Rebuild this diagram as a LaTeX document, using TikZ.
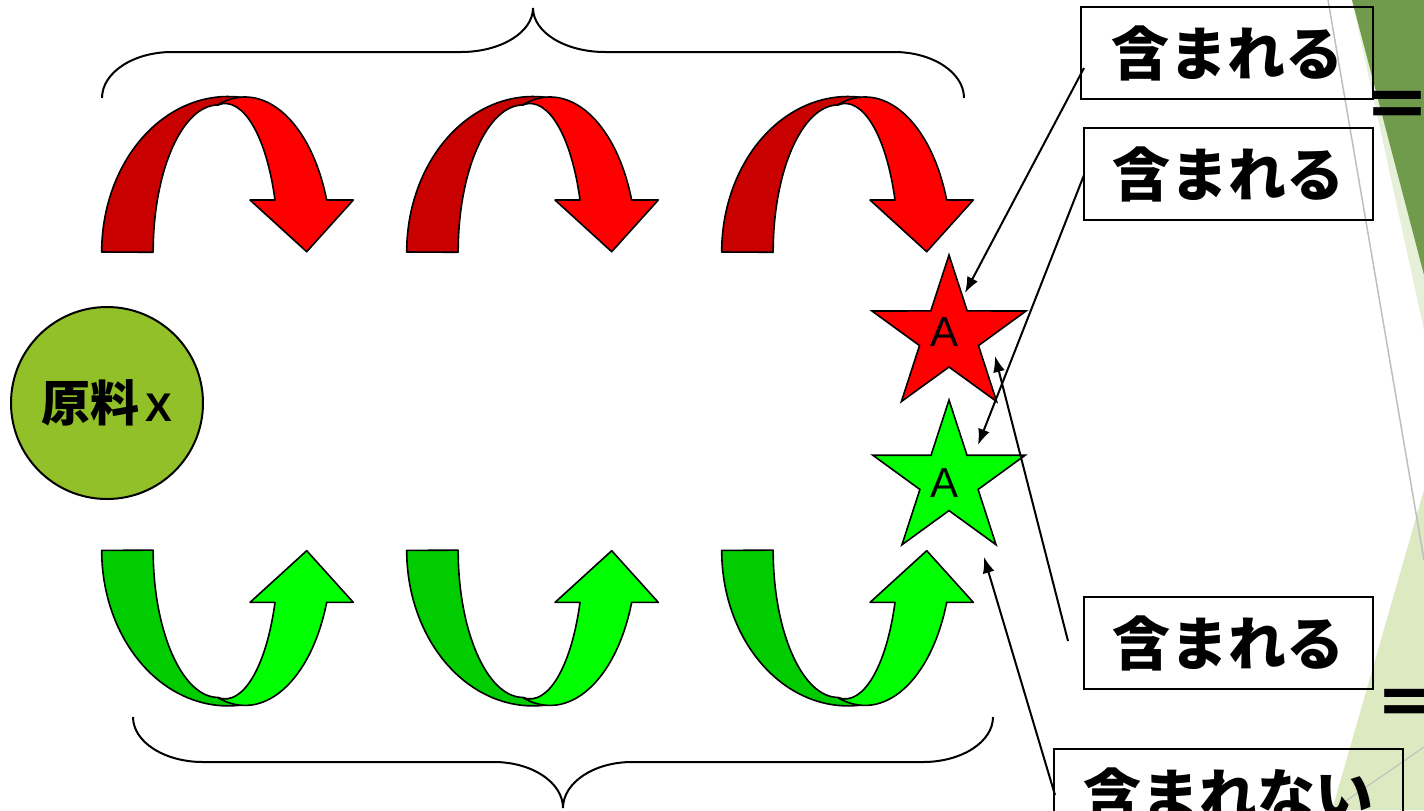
\documentclass[tikz,border=0pt]{standalone}
\usepackage{fontspec}
\setmainfont{Liberation Sans}
\newfontfamily\jp{Noto Sans CJK JP}
\usetikzlibrary{arrows.meta,calc}
\definecolor{arrDarkRed}{RGB}{200,0,0}
\definecolor{arrRed}{RGB}{255,0,0}
\definecolor{arrDarkGreen}{RGB}{0,204,0}
\definecolor{arrGreen}{RGB}{0,255,0}
\definecolor{rawOlive}{RGB}{146,192,40}
\definecolor{bgDark}{RGB}{112,155,77}
\definecolor{bgPale}{RGB}{230,239,216}
\definecolor{bgLight}{RGB}{220,233,193}
\definecolor{bgLine}{RGB}{190,190,190}
\newcommand\curvedarr[3]{%
 \begin{scope}[#1]
  \draw[band, fill=#2] (101.7,252)
     arc[start angle=180, end angle=276.4, x radius=126.3, y radius=155.5]
     arc[start angle=268.1, end angle=252, x radius=86.7, y radius=155]
     arc[start angle=270, end angle=180, x radius=65, y radius=147.3] -- cycle;
  \draw[band, fill=#3] (218.2,104.6)
     arc[start angle=252, end angle=340.4, x radius=86.7, y radius=155]
     -- (353.3,200) -- (306.7,251.7) -- (250,200) -- (275,200)
     arc[start angle=339.5, end angle=262.8, x radius=53.4, y radius=148.5] -- cycle;
 \end{scope}}
\begin{document}
\begin{tikzpicture}[x=0.5pt,y=-0.5pt,
  band/.style={draw=black, line width=0.8pt, line join=round},
  brace/.style={draw=black, line width=1pt},
  box/.style={draw=black, line width=1pt, inner sep=0pt, minimum height=46pt,
     font={\jp\bfseries\fontsize{29pt}{34pt}\selectfont}},
  eqsign/.style={inner sep=0pt, anchor=west, font={\jp\bfseries\fontsize{34pt}{38pt}\selectfont}},
  startext/.style={inner sep=0pt, font={\fontsize{21pt}{21pt}\selectfont}},
  starshape/.style={draw=black, line width=0.8pt, line join=miter},
  conn/.style={draw=black, line width=1pt, -{Latex[length=8pt,width=6pt]}}]
\useasboundingbox (0,0) rectangle (1424,810);
\clip (0,0) rectangle (1424,810);
% background decoration
\fill[bgPale] (1352,0) -- (1424,0) -- (1424,330) -- cycle;
\fill[bgDark] (1352,0) -- (1424,0) -- (1424,275) -- cycle;
\fill[bgLight] (1424,490) -- (1424,810) -- (1332,810) -- cycle;
\draw[bgLine, line width=0.75pt] (1328,0) -- (1424,560);
\draw[bgLine, line width=0.5pt] (1340,805) -- (1424,747);
% braces
\draw[brace] (102,98) arc[start angle=180, end angle=270, x radius=70, y radius=46]
  -- (461,52) arc[start angle=90, end angle=0, x radius=72, y radius=44]
  arc[start angle=180, end angle=90, x radius=72, y radius=44]
  -- (894,52) arc[start angle=270, end angle=360, x radius=70, y radius=46];
\draw[brace] (133,717) arc[start angle=180, end angle=90, x radius=70, y radius=45]
  -- (494,762) arc[start angle=270, end angle=360, x radius=69, y radius=46]
  arc[start angle=180, end angle=270, x radius=69, y radius=46]
  -- (923,762) arc[start angle=90, end angle=0, x radius=70, y radius=45];
% curved arrows
\curvedarr{shift={(0,0)}}{arrDarkRed}{arrRed}
\curvedarr{shift={(305,0)}}{arrDarkRed}{arrRed}
\curvedarr{shift={(620,0)}}{arrDarkRed}{arrRed}
\curvedarr{shift={(0,802.4)},yscale=-1}{arrDarkGreen}{arrGreen}
\curvedarr{shift={(305,802.4)},yscale=-1}{arrDarkGreen}{arrGreen}
\curvedarr{shift={(620,802.4)},yscale=-1}{arrDarkGreen}{arrGreen}
% raw material
\node[circle, draw=black, line width=1pt, fill=rawOlive, minimum size=96pt, inner sep=0pt]
  (raw) at (107,403) {{\jp\bfseries\fontsize{24.5pt}{28pt}\selectfont 原料}\hspace{3pt}{\bfseries\fontsize{20pt}{24pt}\selectfont X}};
% stars
\begin{scope}[shift={(949,336)}]
\draw[starshape, fill=arrRed] (-90:81) -- (-54:31) -- (-18:81) -- (18:31) -- (54:81) -- (90:31)
  -- (126:81) -- (162:31) -- (198:81) -- (234:31) -- cycle;
\end{scope}
\begin{scope}[shift={(949,480)}]
\draw[starshape, fill=arrGreen] (-90:80) -- (-54:30.6) -- (-18:80) -- (18:30.6) -- (54:80) -- (90:30.6)
  -- (126:80) -- (162:30.6) -- (198:80) -- (234:30.6) -- cycle;
\end{scope}
\node[startext] (s1) at (944,332) {A};
\node[startext] (s2) at (944,483) {A};
% boxes
\node[box, minimum width=146pt] (b1) at (1227,53) {含まれる};
\node[box, minimum width=144.5pt] (b2) at (1228.5,174) {含まれる};
\node[box, minimum width=144.5pt] (b3) at (1228.5,643) {含まれる};
\node[box, minimum width=174.5pt] (b4) at (1228.5,795) {含まれない};
\node[eqsign] (eq1) at (1363,111) {＝};
\node[eqsign] (eq2) at (1374,709) {＝};
% connectors
\draw[conn] ($(b1.west)+(4,15)$) -- ($(s1)+(21,-39)$);
\draw[conn] ($(b2.west)+(1,1)$) -- ($(s2)+(34,-38)$);
\draw[conn] ($(b3.west)+(-15,-2)$) -- ($(s1)+(51,24)$);
\draw[conn] ($(b4.west)+(2,0)$) -- ($(s2)+(40,74)$);
\end{tikzpicture}
\end{document}
